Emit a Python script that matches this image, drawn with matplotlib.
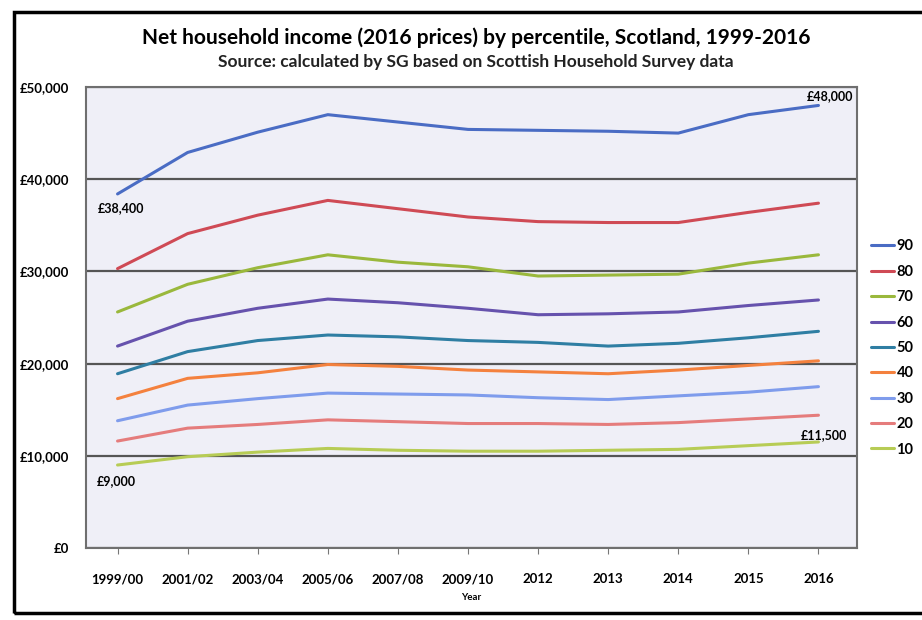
import matplotlib
matplotlib.use("Agg")
import matplotlib.pyplot as plt
from matplotlib.patches import Rectangle
from matplotlib.ticker import FuncFormatter

plt.rcParams['font.family'] = ['Lato', 'DejaVu Sans']

years = ["1999/00", "2001/02", "2003/04", "2005/06", "2007/08", "2009/10",
         "2012", "2013", "2014", "2015", "2016"]
percentiles = ["90", "80", "70", "60", "50", "40", "30", "20", "10"]

p90 = [38400, 42900, 45100, 47000, 46200, 45400, 45300, 45200, 45000, 47000, 48000]
p80 = [30300, 34100, 36100, 37700, 36800, 35900, 35400, 35300, 35300, 36400, 37400]
p70 = [25600, 28600, 30400, 31800, 31000, 30500, 29500, 29600, 29700, 30900, 31800]
p60 = [21900, 24600, 26000, 27000, 26600, 26000, 25300, 25400, 25600, 26300, 26900]
p50 = [18900, 21300, 22500, 23100, 22900, 22500, 22300, 21900, 22200, 22800, 23500]
p40 = [16200, 18400, 19000, 19900, 19700, 19300, 19100, 18900, 19300, 19800, 20300]
p30 = [13800, 15500, 16200, 16800, 16700, 16600, 16300, 16100, 16500, 16900, 17500]
p20 = [11600, 13000, 13400, 13900, 13700, 13500, 13500, 13400, 13600, 14000, 14400]
p10 = [9000, 9900, 10400, 10800, 10600, 10500, 10500, 10600, 10700, 11100, 11500]

series = [p90, p80, p70, p60, p50, p40, p30, p20, p10]
colors = ["#4a6cc4", "#cf4a55", "#9ab83c", "#6652ad", "#2f7ea3",
          "#f4813e", "#7f9cec", "#e57c7c", "#b7cc55"]

fig = plt.figure(figsize=(9.22, 6.2), dpi=100)
ax = fig.add_axes([86 / 922, 1 - 548 / 620, (857 - 86) / 922, (548 - 87) / 620])
ax.set_facecolor("#efeff7")

x = list(range(len(years)))
for vals, name, c in zip(series, percentiles, colors):
    ax.plot(x, vals, color=c, lw=2.2, label=name, solid_capstyle="round")

ax.set_ylim(0, 50000)
ax.set_xlim(-0.45, len(years) - 0.45)
ax.set_yticks(range(0, 50001, 10000))
ax.yaxis.set_major_formatter(FuncFormatter(lambda v, p: "£{:,.0f}".format(v)))
ax.set_xticks(x)
ax.set_xticklabels(years)
ax.grid(axis="y", color="#555555", lw=1.6)
ax.set_axisbelow(True)
ax.tick_params(axis="y", length=0, pad=12, labelsize=9.5)
ax.tick_params(axis="x", length=4, color="#777777", pad=14, labelsize=9.5)
for lbl in ax.get_xticklabels() + ax.get_yticklabels():
    lbl.set_fontweight("bold")
for s in ax.spines.values():
    s.set_color("#6f6f6f")
    s.set_linewidth(1.5)
ax.set_xlabel("Year", fontsize=7, fontweight="bold", labelpad=6)

# value labels
ax.annotate("£38,400", (0, p90[0]), xytext=(-20, -14), textcoords="offset pixels",
            ha="left", va="center", fontsize=9, fontweight="bold")
ax.annotate("£48,000", (10, p90[-1]), xytext=(12, 9), textcoords="offset pixels",
            ha="center", va="center", fontsize=9, fontweight="bold")
ax.annotate("£9,000", (0, p10[0]), xytext=(-21, -16), textcoords="offset pixels",
            ha="left", va="center", fontsize=9, fontweight="bold")
ax.annotate("£11,500", (10, p10[-1]), xytext=(6, 7), textcoords="offset pixels",
            ha="center", va="center", fontsize=9, fontweight="bold")

fig.legend(loc="center left", bbox_to_anchor=(868 / 922, 1 - 348 / 620),
           frameon=False, handlelength=1.6, handletextpad=0.15,
           labelspacing=0.78, borderpad=0.2, borderaxespad=0,
           prop={"size": 10.5, "weight": "bold"})

fig.text(476 / 922, 1 - 38 / 620,
         "Net household income (2016 prices) by percentile, Scotland, 1999-2016",
         ha="center", va="center", fontsize=15, fontweight="bold")
fig.text(476 / 922, 1 - 62 / 620,
         "Source: calculated by SG based on Scottish Household Survey data",
         ha="center", va="center", fontsize=12.5, fontweight="bold", color="#222222")

fig.patches.append(Rectangle((14 / 922, 7 / 620), 1.0, 1 - 19 / 620,
                             transform=fig.transFigure, fill=False,
                             edgecolor="black", lw=2.5))

fig.savefig("out.png", dpi=100)
